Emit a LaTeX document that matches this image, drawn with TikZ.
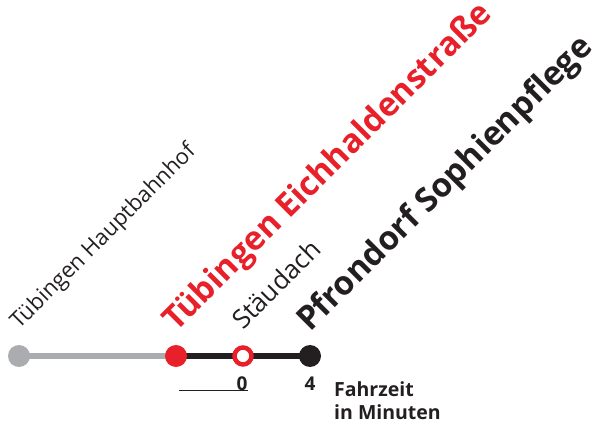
\documentclass[tikz,border=0pt]{standalone}
\usepackage{fontspec}
\setmainfont{Open Sans}
\definecolor{vred}{HTML}{E8202A}
\definecolor{vgrey}{HTML}{ABACAF}
\definecolor{vblack}{HTML}{231F20}
\begin{document}
\begin{tikzpicture}[x=1pt,y=-1pt,
  stop/.style={circle,inner sep=0pt,minimum size=22pt},
  lbl/.style={rotate=45,anchor=base west,inner sep=0pt},
  smalllbl/.style={lbl,font=\fontsize{22}{22}\selectfont,text=vblack},
  biglbl/.style={lbl,font=\fontsize{33}{33}\selectfont\bfseries},
  num/.style={font=\fontsize{19}{19}\selectfont\bfseries,text=vblack,anchor=base,inner sep=0pt}]
\useasboundingbox (0,0) rectangle (597,427);
\node[stop] (hbf) at (19,356) {};
\node[stop] (eich) at (176,356) {};
\node[stop] (st) at (243,356) {};
\node[stop] (pf) at (310,356) {};
\draw[vgrey,line width=6.5pt] (hbf.center) -- (eich.center);
\draw[vblack,line width=6.5pt] (eich.center) -- (pf.center);
\fill[vgrey] (hbf) circle (11pt);
\fill[vred] (eich) circle (11pt);
\fill[vblack] (pf) circle (11pt);
\draw[vred,line width=4.5pt,fill=white] (st) circle (8.5pt);
\node[smalllbl] (lhbf) at (19,330) {Tübingen Hauptbahnhof};
\node[biglbl,text=vred] (leich) at (176,333) {Tübingen Eichhaldenstraße};
\node[smalllbl,font=\fontsize{26}{26}\selectfont] (lst) at (243,331) {Stäudach};
\node[biglbl,text=vblack] (lpf) at (310,333) {Pfrondorf Sophienpflege};
\node[num] (n0) at (242,391) {0};
\node[num] (n4) at (310,391) {4};
\coordinate (ul) at (179,391);
\draw[vblack,line width=1pt] (ul) -- (n0.base east);
\node[anchor=base west,inner sep=0pt,align=left,text=vblack,
  font=\fontsize{19.5}{23}\selectfont\bfseries] (fz) at (334,419) {Fahrzeit\\in Minuten};
\end{tikzpicture}
\end{document}
